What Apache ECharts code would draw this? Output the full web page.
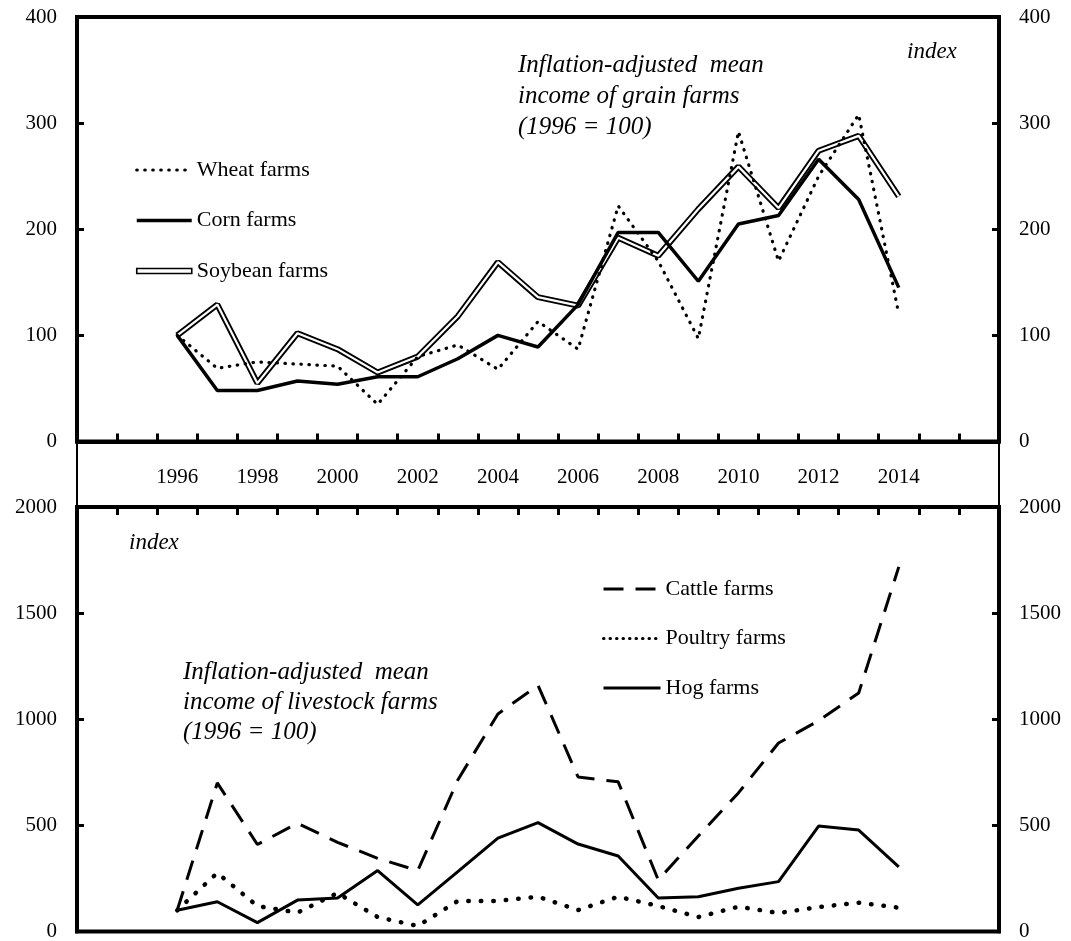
<!DOCTYPE html>
<html>
<head>
    <meta charset="utf-8">
    <script src="https://cdn.jsdelivr.net/npm/echarts@6.0.0/dist/echarts.min.js"></script>
    <title>Farm income index</title>
    <style>
        html, body { margin: 0; padding: 0; background: #fff; }
        #main { width: 1071px; height: 941px; }
    </style>
</head>
<body>
    <div id="main"></div>
    <script type="text/javascript">
        // category axis runs 1994..2016, data only 1996..2014
        var axisYears = ['1994', '1995', '1996', '1997', '1998', '1999', '2000', '2001', '2002', '2003', '2004',
            '2005', '2006', '2007', '2008', '2009', '2010', '2011', '2012', '2013', '2014', '2015', '2016'];
        var tickLabels = ['1996', '1998', '2000', '2002', '2004', '2006', '2008', '2010', '2012', '2014'];

        // grain farms, 1996..2014
        var wheat   = [100, 69, 75, 73, 71, 35, 80, 91, 68, 113, 87, 222, 170, 97, 292, 170, 250, 308, 120];
        var corn    = [100, 48, 48, 57, 54, 61, 61, 78, 100, 89, 129, 197, 197, 151, 205, 213, 266, 228, 145];
        var soybean = [100, 129, 55, 102, 87, 65, 80, 118, 169, 136, 128, 192, 175, 219, 259, 220, 274, 288, 231];

        // livestock farms, 1996..2014
        var cattle  = [100, 700, 410, 510, 420, 345, 287, 714, 1025, 1160, 728, 705, 243, 450, 653, 888, 993, 1124, 1718];
        var poultry = [100, 276, 120, 89, 181, 68, 26, 144, 144, 164, 101, 164, 120, 68, 117, 87, 115, 136, 112];
        var hog     = [100, 140, 42, 148, 158, 287, 125, 282, 440, 513, 412, 356, 158, 164, 204, 235, 497, 478, 304];

        function pad(arr) {
            return [null, null].concat(arr, [null, null]);
        }

        var FONT = "'Liberation Serif', 'Times New Roman', serif";
        var black = '#000';

        var myChart = echarts.init(document.getElementById('main'));

        function yAxisPair(gridIndex, max, interval) {
            var base = {
                type: 'value',
                gridIndex: gridIndex,
                min: 0,
                max: max,
                interval: interval,
                splitLine: { show: false },
                axisLine: { show: true, onZero: false, lineStyle: { color: black, width: 4 } },
                axisTick: { show: true, inside: true, length: 7, lineStyle: { color: black, width: 3 } },
                axisLabel: {
                    color: black, fontFamily: FONT, fontSize: 21, margin: 20,
                    formatter: function (v) { return String(v); }
                }
            };
            var left = echarts.util.merge({ position: 'left' }, base, true);
            var right = echarts.util.merge({ position: 'right' }, base, true);
            return [left, right];
        }

        function line(name, data, xi, yi, style, z) {
            return {
                name: name,
                type: 'line',
                xAxisIndex: xi,
                yAxisIndex: yi,
                data: pad(data),
                symbol: 'none',
                z: z,
                lineStyle: style,
                emphasis: { disabled: true }
            };
        }

        var wheatStyle   = { color: black, width: 3.2, type: [0.5, 7.5], cap: 'round' };
        var cornStyle    = { color: black, width: 3.5 };
        var soyOuter     = { color: black, width: 6 };
        var soyInner     = { color: '#fff', width: 2.2 };
        var cattleStyle  = { color: black, width: 3, type: [20, 12] };
        var poultryStyle = { color: black, width: 4.5, type: [0.5, 12], cap: 'round' };
        var hogStyle     = { color: black, width: 3 };

        var yTop = yAxisPair(0, 400, 100);
        var yBot = yAxisPair(1, 2000, 500);

        var legendText = { color: black, fontFamily: FONT, fontSize: 22 };

        var option = {
            animation: false,
            backgroundColor: '#fff',
            grid: [
                { left: 77, right: 72, top: 17, height: 424.5, show: true, borderColor: black, borderWidth: 4, outerBoundsMode: 'none' },
                { left: 77, right: 72, top: 507, height: 424.5, show: true, borderColor: black, borderWidth: 4, outerBoundsMode: 'none' }
            ],
            xAxis: [
                {
                    type: 'category',
                    gridIndex: 0,
                    data: axisYears,
                    boundaryGap: true,
                    position: 'bottom',
                    axisLine: { show: true, onZero: false, lineStyle: { color: black, width: 4 } },
                    axisTick: { show: true, inside: true, length: 8, interval: 0, lineStyle: { color: black, width: 3 } },
                    axisLabel: {
                        interval: 0,
                        margin: 25,
                        color: black,
                        fontFamily: FONT,
                        fontSize: 21,
                        formatter: function (v) { return tickLabels.indexOf(v) >= 0 ? v : ''; }
                    }
                },
                {
                    type: 'category',
                    gridIndex: 1,
                    data: axisYears,
                    boundaryGap: true,
                    position: 'top',
                    axisLine: { show: true, onZero: false, lineStyle: { color: black, width: 4 } },
                    axisTick: { show: true, inside: true, length: 8, interval: 0, lineStyle: { color: black, width: 3 } },
                    axisLabel: { show: false }
                }
            ],
            yAxis: [yTop[0], yTop[1], yBot[0], yBot[1]],
            legend: [
                {
                    orient: 'vertical',
                    left: 130,
                    top: 154,
                    itemWidth: 55,
                    itemHeight: 20,
                    itemGap: 28.5,
                    selectedMode: false,
                    textStyle: legendText,
                    itemStyle: { opacity: 0 },
                    data: [
                        { name: 'Wheat farms', lineStyle: wheatStyle },
                        { name: 'Corn farms', lineStyle: cornStyle },
                        {
                            name: 'Soybean farms',
                            icon: 'path://M0,0H55V5H0Z',
                            itemStyle: { opacity: 1, color: '#fff', borderColor: black, borderWidth: 1.6 }
                        }
                    ]
                },
                {
                    orient: 'vertical',
                    left: 597,
                    top: 573,
                    itemWidth: 57,
                    itemHeight: 20,
                    itemGap: 27.5,
                    selectedMode: false,
                    textStyle: legendText,
                    itemStyle: { opacity: 0 },
                    data: [
                        { name: 'Cattle farms', lineStyle: cattleStyle },
                        { name: 'Poultry farms', lineStyle: { color: black, width: 3, type: [0.5, 6], cap: 'round' } },
                        { name: 'Hog farms', lineStyle: hogStyle }
                    ]
                }
            ],
            graphic: [
                {
                    type: 'rect',
                    shape: { x: 77, y: 441.5, width: 922, height: 65.5 },
                    style: { fill: 'none', stroke: black, lineWidth: 2 },
                    z: 0
                },
                {
                    type: 'text',
                    left: 518,
                    top: 50,
                    style: {
                        text: 'Inflation-adjusted  mean\nincome of grain farms\n(1996 = 100)',
                        font: 'italic 25px ' + FONT,
                        lineHeight: 31,
                        fill: black
                    }
                },
                {
                    type: 'text',
                    left: 907,
                    top: 40,
                    style: { text: 'index', font: 'italic 23px ' + FONT, fill: black }
                },
                {
                    type: 'text',
                    left: 129,
                    top: 531,
                    style: { text: 'index', font: 'italic 23px ' + FONT, fill: black }
                },
                {
                    type: 'text',
                    left: 183,
                    top: 657,
                    style: {
                        text: 'Inflation-adjusted  mean\nincome of livestock farms\n(1996 = 100)',
                        font: 'italic 25px ' + FONT,
                        lineHeight: 30,
                        fill: black
                    }
                }
            ],
            series: [
                line('Soybean farms', soybean, 0, 0, soyOuter, 2),
                line('soy-inner', soybean, 0, 0, soyInner, 3),
                line('Corn farms', corn, 0, 0, cornStyle, 4),
                line('Wheat farms', wheat, 0, 0, wheatStyle, 5),
                line('Hog farms', hog, 1, 2, hogStyle, 2),
                line('Poultry farms', poultry, 1, 2, poultryStyle, 3),
                line('Cattle farms', cattle, 1, 2, cattleStyle, 4)
            ]
        };

        myChart.setOption(option);
    </script>
</body>
</html>
